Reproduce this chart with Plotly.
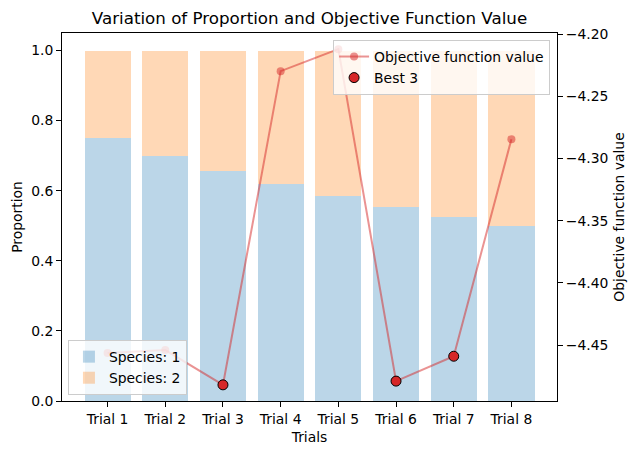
import plotly.graph_objects as go

trials = ["Trial 1", "Trial 2", "Trial 3", "Trial 4", "Trial 5", "Trial 6", "Trial 7", "Trial 8"]
species1 = [0.75, 0.70, 0.655, 0.62, 0.585, 0.553, 0.524, 0.50]
species2 = [1 - v for v in species1]
objective = [-4.4564, -4.454, -4.482, -4.2297, -4.212, -4.479, -4.459, -4.2844]
best_idx = [2, 5, 6]
right_ticks = [-4.45, -4.40, -4.35, -4.30, -4.25, -4.20]
left_ticks = [0.0, 0.2, 0.4, 0.6, 0.8, 1.0]

x = list(range(len(trials)))
FONT = "DejaVu Sans"
FS = 13.9

fig = go.Figure()
fig.add_trace(go.Bar(x=x, y=species1, name="Species: 1", width=0.8,
                     marker=dict(color="rgba(31,119,180,0.3)", line=dict(width=0)),
                     legend="legend", yaxis="y"))
fig.add_trace(go.Bar(x=x, y=species2, name="Species: 2", width=0.8,
                     marker=dict(color="rgba(255,127,14,0.3)", line=dict(width=0)),
                     legend="legend", yaxis="y"))
fig.add_trace(go.Scatter(x=x, y=objective, name="Objective function value", mode="lines+markers",
                         line=dict(color="rgba(214,39,40,0.5)", width=2),
                         marker=dict(color="rgba(214,39,40,0.5)", size=8),
                         legend="legend2", yaxis="y2"))
fig.add_trace(go.Scatter(x=[x[i] for i in best_idx], y=[objective[i] for i in best_idx],
                         name="Best 3", mode="markers",
                         marker=dict(color="#d62728", size=10, line=dict(color="black", width=1)),
                         legend="legend2", yaxis="y2"))

axis_common = dict(showline=True, linecolor="black", linewidth=1,
                   ticks="outside", ticklen=5, tickcolor="black", showgrid=False,
                   zeroline=False, automargin=False, tickfont=dict(size=FS, family=FONT))

fig.update_layout(
    width=638, height=455,
    margin=dict(l=62, r=81, t=33, b=54),
    plot_bgcolor="white", paper_bgcolor="white",
    barmode="stack", bargap=0,
    font=dict(family=FONT, size=FS, color="black"),
    title=dict(text="Variation of Proportion and Objective Function Value",
               xref="paper", x=0.5, xanchor="center", y=1 - 18 / 455, yanchor="middle",
               font=dict(size=16.7, family=FONT, color="black")),
    xaxis=dict(range=[-0.79, 7.79], tickmode="array", tickvals=x, ticktext=trials,
               mirror=True,
               title=dict(text="Trials", standoff=6, font=dict(size=FS)), **axis_common),
    yaxis=dict(range=[0, 1.05], tickmode="array", tickvals=left_ticks,
               ticktext=[f"{v:.1f}" for v in left_ticks],
               title=dict(text="Proportion", standoff=5, font=dict(size=FS)), **axis_common),
    yaxis2=dict(range=[-4.495, -4.199], overlaying="y", side="right", tickmode="array",
                tickvals=right_ticks, ticktext=[f"\u2212{abs(v):.2f}" for v in right_ticks],
                title=dict(text="Objective function value", standoff=6, font=dict(size=FS)),
                **axis_common),
    legend=dict(x=0.012, y=0.016, xanchor="left", yanchor="bottom",
                bgcolor="rgba(255,255,255,0.8)", bordercolor="#cccccc", borderwidth=1,
                font=dict(size=FS), traceorder="normal", itemwidth=30),
    legend2=dict(x=0.986, y=0.981, xanchor="right", yanchor="top",
                 bgcolor="rgba(255,255,255,0.8)", bordercolor="#cccccc", borderwidth=1,
                 font=dict(size=FS), traceorder="normal", itemwidth=30),
    showlegend=True,
)

fig.write_html("out.html")
